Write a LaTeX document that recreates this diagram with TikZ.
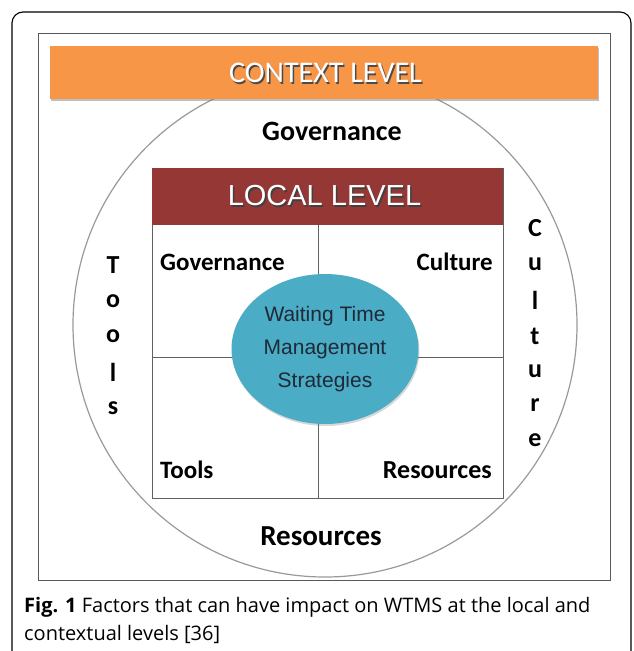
\documentclass[tikz,border=0pt]{standalone}
\usepackage{fontspec}
\setmainfont{Carlito}
\newfontfamily\arialf{Liberation Sans}
\newfontfamily\capf{Open Sans}
\usetikzlibrary{shadows,shapes.geometric}
\definecolor{ctxorange}{HTML}{F79646}
\definecolor{locred}{HTML}{953735}
\definecolor{wtblue}{HTML}{4BACC6}
\definecolor{txtdark}{HTML}{1F2A36}
\begin{document}
\begin{tikzpicture}[x=1pt,y=-1pt,
  lbl/.style={font=\bfseries\fontsize{25}{25}\selectfont, inner sep=0pt},
  vlet/.style={font=\bfseries\fontsize{26}{26}\selectfont, inner sep=0pt},
  thin/.style={draw=gray!75!black, line width=0.9pt}]
\useasboundingbox (0,0) rectangle (634,651);
\begin{scope}
\clip (0,0) rectangle (634,651);
\draw[line width=1.1pt, rounded corners=11pt] (12,700) -- (12,12) -- (631,12) -- (631,700);
\end{scope}
\node[draw=gray!70!black, line width=0.8pt, minimum width=572pt, minimum height=547pt, inner sep=0pt] (frame) at (324,306.5) {};
\node[circle, draw=gray!80, line width=1.2pt, minimum size=504pt, inner sep=0pt] (outer) at (325,325) {};
% context bar
\node[fill=ctxorange, minimum width=548pt, minimum height=53pt, inner sep=0pt, drop shadow={shadow xshift=1pt, shadow yshift=-2pt, opacity=0.5}] (ctx) at (324,72) {};
\node[text=gray!60!black, font=\fontsize{30}{30}\selectfont] (ctxs) at (327,74.5) {CONTEXT LEVEL};
\node[text=white, font=\fontsize{30}{30}\selectfont] (ctxt) at (325.5,72.5) {CONTEXT LEVEL};
% outer labels
\node[lbl, font=\bfseries\fontsize{28}{28}\selectfont] (gov) at (332,131) {Governance};
\node[lbl, font=\bfseries\fontsize{29}{29}\selectfont] (res) at (321,536) {Resources};
\foreach \c/\yy [count=\i] in {T/265,o/301,o/336,l/372,s/408}
  \node[vlet] (tl\i) at (113,\yy) {\c};
\foreach \c/\yy [count=\i] in {C/228,u/264,l/300,t/336,u/371,r/405,e/440}
  \node[vlet] (cu\i) at (535,\yy) {\c};
% local box
\node[thin, fill=white, minimum width=351pt, minimum height=330pt, inner sep=0pt] (local) at (327.5,333) {};
\node[fill=locred, minimum width=351pt, minimum height=57pt, inner sep=0pt] (loc) at (327.5,196.5) {};
\node[text=gray!50!black, font=\arialf\fontsize{29}{29}\selectfont] (locs) at (326,197.5) {LOCAL LEVEL};
\node[text=white, font=\arialf\fontsize{29}{29}\selectfont] (loct) at (324.5,196) {LOCAL LEVEL};
\coordinate (vt) at (318,225);
\coordinate (vb) at (318,498);
\coordinate (hl) at (152,357);
\coordinate (hr) at (503,357);
\draw[thin] (vt) -- (vb);
\draw[thin] (hl) -- (hr);
\node[lbl, anchor=base west] (lg) at (160,270) {Governance};
\node[lbl, anchor=base east] (lc) at (493,270) {Culture};
\node[lbl, anchor=base west] (lt) at (160,478) {Tools};
\node[lbl, anchor=base east, font=\bfseries\fontsize{26}{26}\selectfont] (lr) at (492,478) {Resources};
% centre ellipse
\node[ellipse, fill=wtblue, minimum width=187pt, minimum height=150pt, inner sep=0pt, drop shadow={shadow xshift=1pt, shadow yshift=-2pt, opacity=0.3}] (wtms) at (325,349) {};
\node[text=txtdark, align=center, font=\arialf\fontsize{21}{33}\selectfont] (wtmst) at (wtms) {Waiting Time\\Management\\Strategies};
% caption
\node[anchor=base west, inner sep=0pt, font=\capf\fontsize{20}{20}\selectfont] (cap1) at (24,612) {\textbf{Fig. 1} Factors that can have impact on WTMS at the local and};
\node[anchor=base west, inner sep=0pt, font=\capf\fontsize{20}{20}\selectfont] (cap2) at (24,640) {contextual levels [36]};
\end{tikzpicture}
\end{document}
